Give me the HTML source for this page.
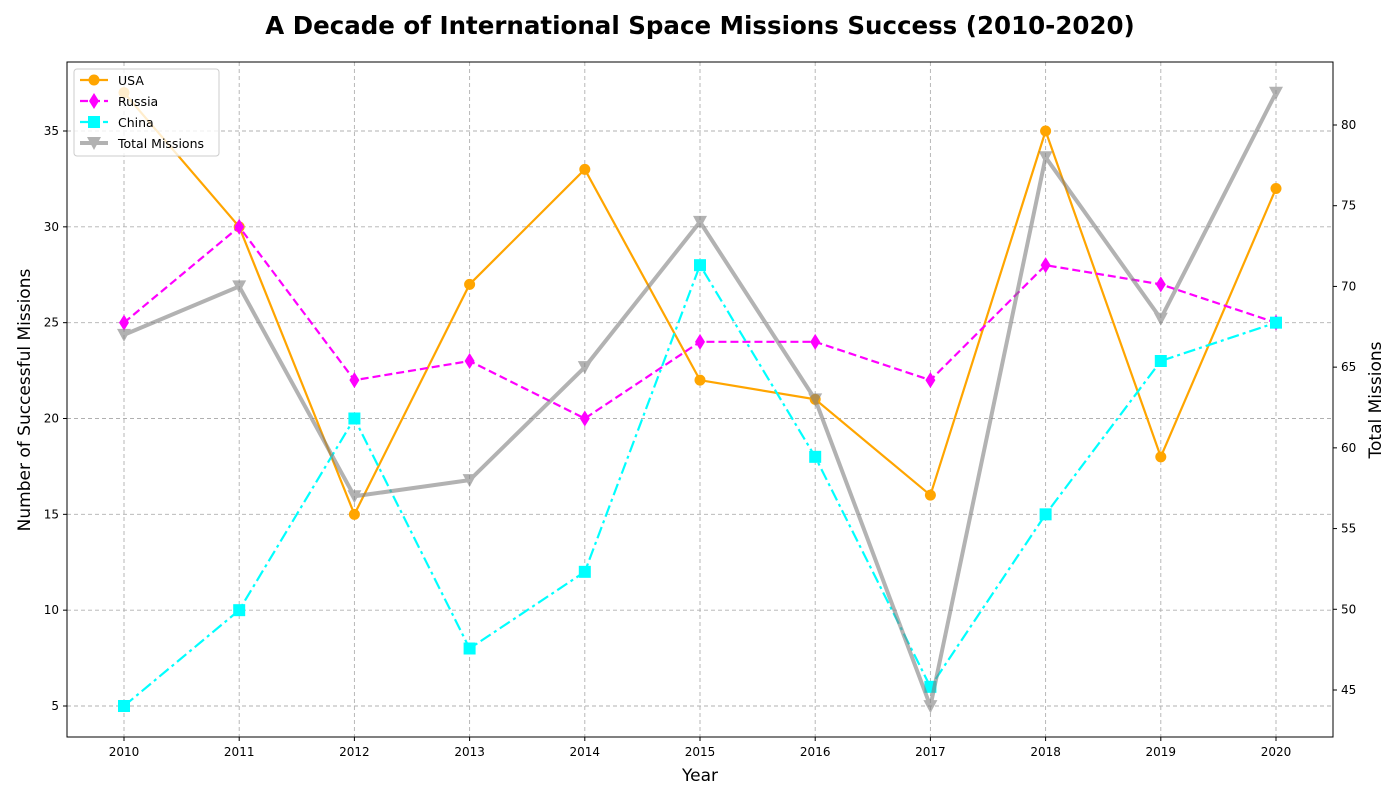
<!DOCTYPE html>
<html><head><meta charset="utf-8"><style>
html,body{margin:0;background:#fff;overflow:hidden;width:1400px;height:800px}
svg{display:block}
svg text{font-family:"DejaVu Sans","Liberation Sans",sans-serif}
</style></head><body>
<svg id="c" width="1400" height="800" xmlns="http://www.w3.org/2000/svg" style="position:absolute;left:0;top:0"></svg>
<script>
const years=[2010,2011,2012,2013,2014,2015,2016,2017,2018,2019,2020];
const usa=[37,30,15,27,33,22,21,16,35,18,32];
const russia=[25,30,22,23,20,24,24,22,28,27,25];
const china=[5,10,20,8,12,28,18,6,15,23,25];
const total=[67,70,57,58,65,74,63,44,78,68,82];
const leftTicks=[5,10,15,20,25,30,35];
const rightTicks=[45,50,55,60,65,70,75,80];
const L=67,R=1333,T=62,B=737;
const x=v=>124+(v-2010)*115.2;
const yl=v=>706-(v-5)*19.1667;
const yr=v=>690-(v-45)*16.143;
const s=document.getElementById('c');
const NS='http://www.w3.org/2000/svg';
function el(t,a,p){const e=document.createElementNS(NS,t);for(const k in a)e.setAttribute(k,a[k]);(p||s).appendChild(e);return e;}
function txt(str,a){const e=el('text',a);e.textContent=str;return e;}
years.forEach(v=>{const g=el('line',{x1:x(v),x2:x(v),y1:T,y2:B,stroke:'#b0b0b0','stroke-dasharray':'4,3','stroke-width':0.9});
});
leftTicks.forEach(v=>{const g=el('line',{x1:L,x2:R,y1:yl(v),y2:yl(v),stroke:'#b0b0b0','stroke-dasharray':'4,3','stroke-width':0.9});
});
function marker(t,cx,cy,c,g){
 if(t==='o')return el('circle',{cx,cy,r:5.5,fill:c},g);
 if(t==='d')return el('polygon',{points:`${cx},${cy-8} ${cx+5},${cy} ${cx},${cy+8} ${cx-5},${cy}`,fill:c},g);
 if(t==='s')return el('rect',{x:cx-6,y:cy-6,width:12,height:12,fill:c},g);
 if(t==='v')return el('polygon',{points:`${cx-7},${cy-6} ${cx+7},${cy-6} ${cx},${cy+7}`,fill:c},g);
}
function series(name,data,yf,c,dash,w,m,op){
 const g=el('g',{opacity:op});
 
 el('polyline',{points:data.map((v,i)=>x(years[i])+','+yf(v)).join(' '),fill:'none',stroke:c,'stroke-width':w,'stroke-dasharray':dash},g);
 data.forEach((v,i)=>{const p=marker(m,x(years[i]),yf(v),c,g);
  });
}
series('usa',usa,yl,'orange','none',2.2,'o',1);
series('russia',russia,yl,'magenta','8,4',2.2,'d',1);
series('china',china,yl,'cyan','12,4,3,4',2.2,'s',1);
series('total-missions',total,yr,'grey','none',4,'v',0.6);
const f=el('rect',{x:L,y:T,width:R-L,height:B-T,fill:'none',stroke:'#000','stroke-width':1});

years.forEach(v=>{el('line',{x1:x(v),x2:x(v),y1:B,y2:B+4,stroke:'#000'});
 const t=txt(v,{x:x(v),y:B+19,'font-size':12,'text-anchor':'middle'});
 });
leftTicks.forEach(v=>{el('line',{x1:L-4,x2:L,y1:yl(v),y2:yl(v),stroke:'#000'});
 const t=txt(v,{x:L-8,y:yl(v)+4,'font-size':12,'text-anchor':'end'});
 });
rightTicks.forEach(v=>{el('line',{x1:R,x2:R+4,y1:yr(v),y2:yr(v),stroke:'#000'});
 const t=txt(v,{x:R+8,y:yr(v)+4,'font-size':12});
 });
</script>
<svg width="1400" height="800" xmlns="http://www.w3.org/2000/svg" style="position:absolute;left:0;top:0;pointer-events:none">
<text x="700" y="34" font-size="24.5" font-weight="bold" text-anchor="middle">A Decade of International Space Missions Success (2010-2020)</text>
<text x="700" y="781" font-size="17" text-anchor="middle">Year</text>
<text transform="translate(30,400) rotate(-90)" font-size="17" text-anchor="middle">Number of Successful Missions</text>
<text transform="translate(1381,400) rotate(-90)" font-size="17" text-anchor="middle">Total Missions</text>
<g font-size="12.5">
<rect x="74" y="69" width="145" height="87" rx="3" fill="#fff" fill-opacity="0.8" stroke="#ccc"/>
<g><line x1="80" x2="108" y1="80" y2="80" stroke="orange" stroke-width="2.2"/><circle cx="94" cy="80" r="5.5" fill="orange"/><text x="118" y="85">USA</text></g>
<g><line x1="80" x2="108" y1="101" y2="101" stroke="magenta" stroke-width="2.2" stroke-dasharray="8,4"/><polygon points="94,93 99,101 94,109 89,101" fill="magenta"/><text x="118" y="106">Russia</text></g>
<g><line x1="80" x2="108" y1="122" y2="122" stroke="cyan" stroke-width="2.2" stroke-dasharray="12,4,3,4"/><rect x="88" y="116" width="12" height="12" fill="cyan"/><text x="118" y="127">China</text></g>
<g><g opacity="0.6"><line x1="80" x2="108" y1="143" y2="143" stroke="grey" stroke-width="4"/><polygon points="87,137 101,137 94,150" fill="grey"/></g><text x="118" y="148">Total Missions</text></g>
</g>
</svg>
</body></html>
